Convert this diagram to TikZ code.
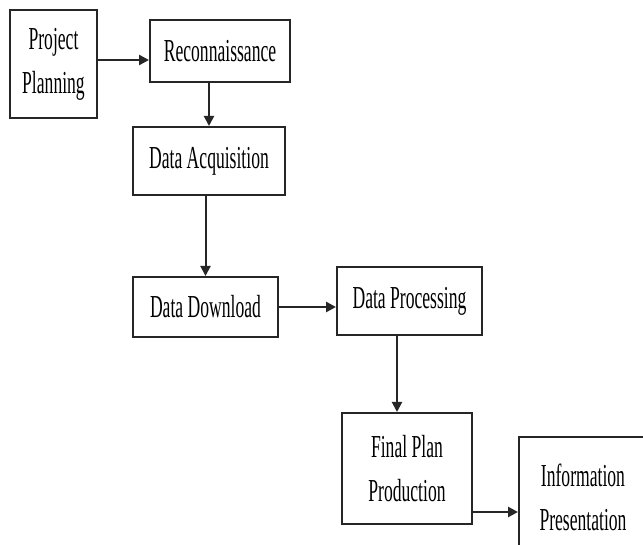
\documentclass[tikz,border=0pt]{standalone}
\usepackage{fontspec}
\setmainfont{Liberation Serif}[FakeStretch=0.55]
\usetikzlibrary{arrows.meta}
\begin{document}
\begin{tikzpicture}[x=1pt,y=-1pt,
  box/.style={draw=black!85, line width=2pt, fill=white, inner sep=0pt,
    align=center, font=\fontsize{32}{44}\selectfont},
  arr/.style={draw=black!85, line width=2pt, -{Triangle[length=10pt,width=10pt]}},
  thick arr/.style={arr, line width=2.8pt}]
\useasboundingbox (0,0) rectangle (643,545);
\clip (0,0) rectangle (643,545);
\node[box, minimum width=87pt, minimum height=108pt] (pp) at (53.5,64) {Project\\Planning};
\node[box, minimum width=140pt, minimum height=62pt] (rec) at (220,51) {Reconnaissance};
\node[box, minimum width=152pt, minimum height=68pt] (da) at (209,161) {Data Acquisition};
\node[box, minimum width=145pt, minimum height=60pt] (dd) at (205.5,307) {Data Download};
\node[box, minimum width=145pt, minimum height=68pt] (dp) at (409.5,301) {Data Processing};
\node[box, minimum width=130pt, minimum height=111pt] (fpp) at (407,468.5) {Final Plan\\Production};
\node[box, minimum width=128pt, minimum height=120pt] (ip) at (583,497) {Information\\Presentation};
\draw[thick arr] (pp.east |- 0,60) -- (rec.west |- 0,60);
\draw[arr] (rec.south -| da.north) -- (da.north);
\draw[arr] (da.south -| dd.north) -- (dd.north);
\draw[thick arr] (dd.east) -- (dd.east -| dp.west);
\draw[arr] (dp.south -| 397,0) -- (fpp.north -| 397,0);
\draw[thick arr] (fpp.east |- 0,512) -- (ip.west |- 0,512);
\end{tikzpicture}
\end{document}
